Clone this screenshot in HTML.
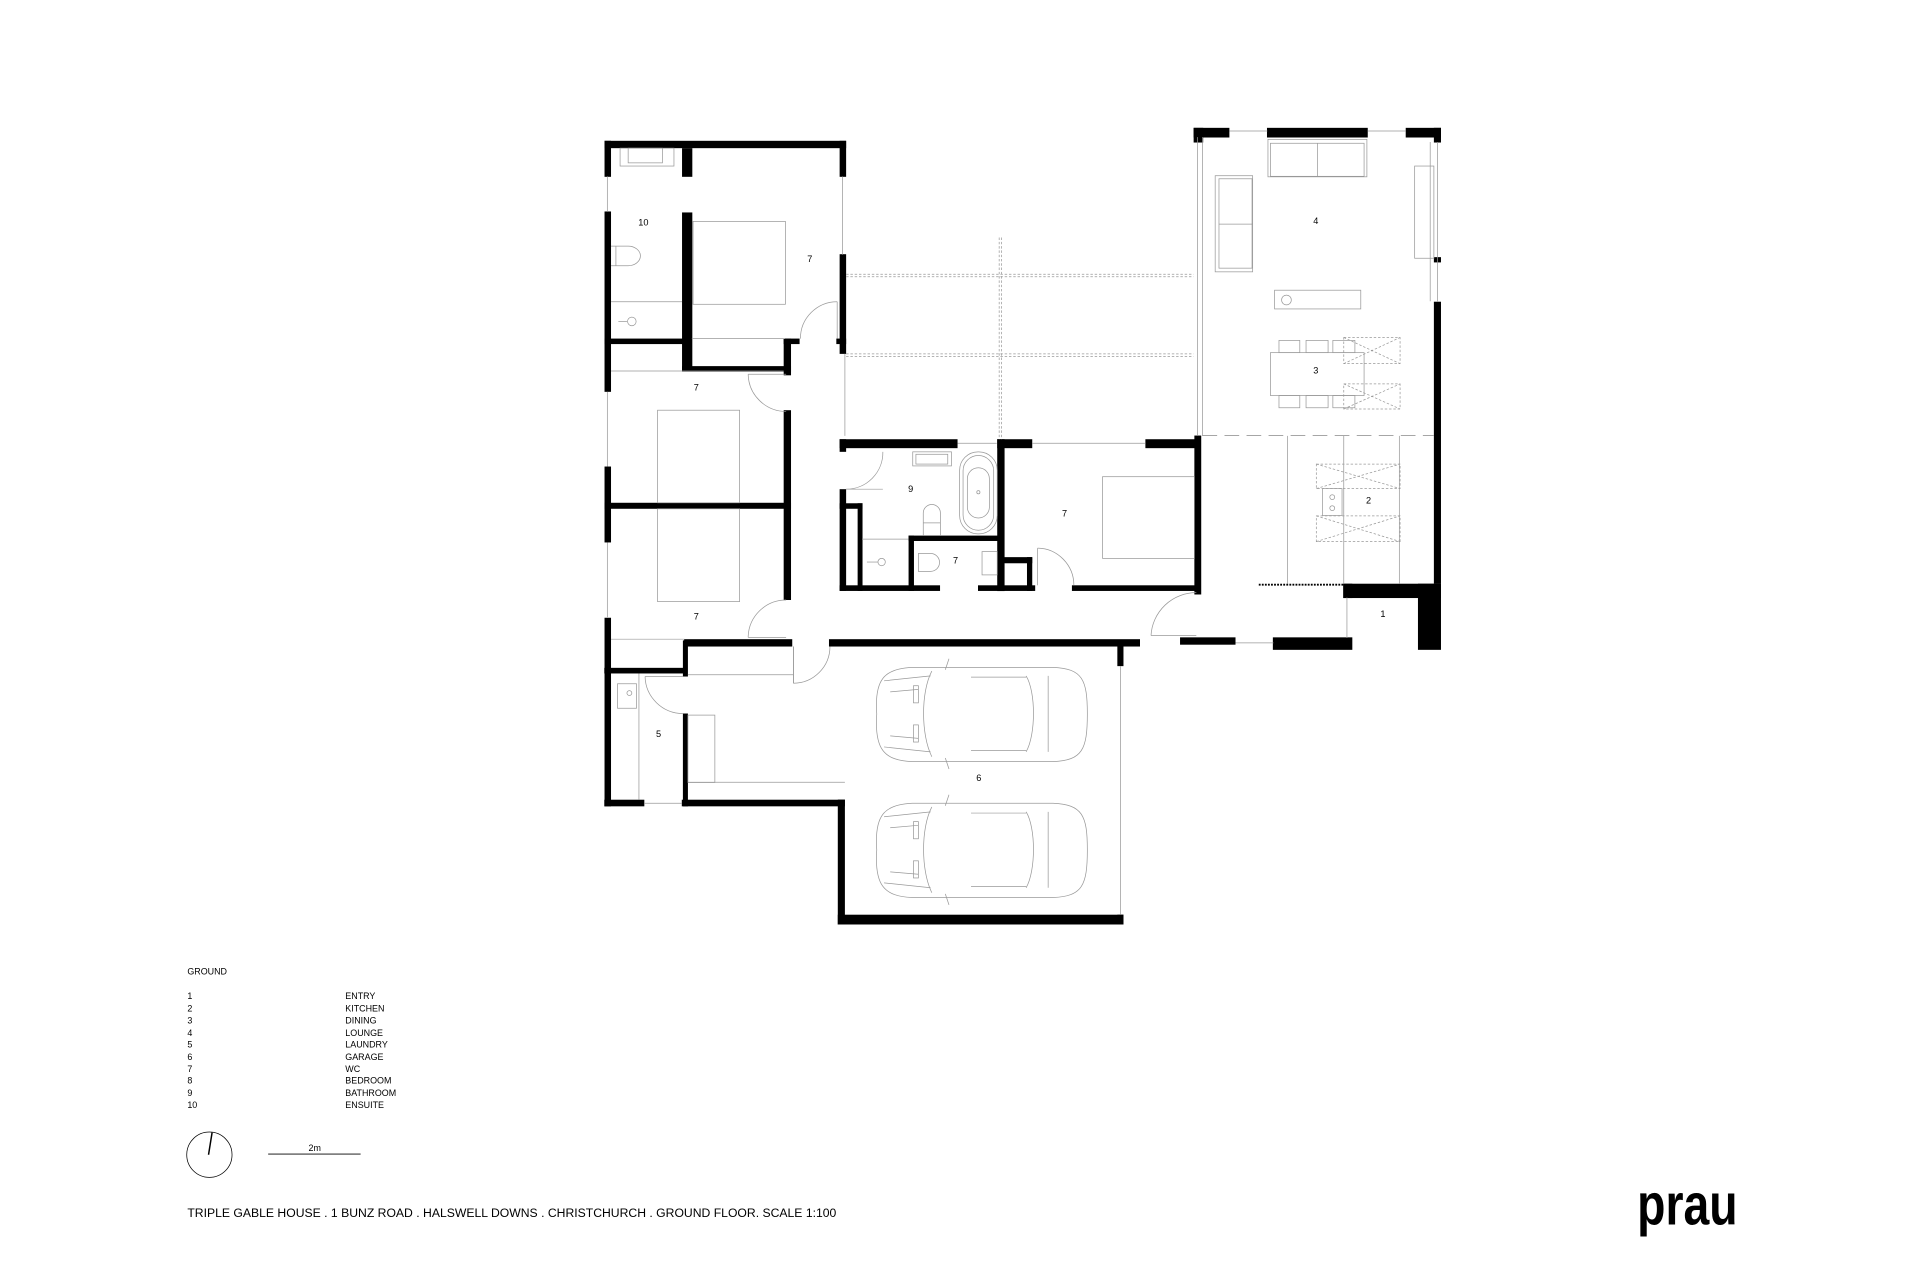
<!DOCTYPE html>
<html><head><meta charset="utf-8"><style>
html,body{margin:0;padding:0;background:#fff;}
svg{display:block;}
text{font-family:"Liberation Sans",sans-serif;fill:#000;}
</style></head><body>
<svg width="1920" height="1280" viewBox="0 0 1568 1045.33" preserveAspectRatio="none" xmlns="http://www.w3.org/2000/svg">
<rect width="1568" height="1046" fill="#fff"/>
<g fill="#000">
<!-- west wing -->
<rect x="493.7" y="115" width="197.3" height="6"/>
<rect x="493.7" y="115" width="5.3" height="29.4"/>
<rect x="493.7" y="172.7" width="5.3" height="147.3"/>
<rect x="493.7" y="381" width="5.3" height="62"/>
<rect x="493.7" y="504.5" width="5.3" height="154"/>
<rect x="685.7" y="115" width="5.3" height="29.4"/>
<rect x="685.7" y="207.6" width="5.3" height="81.4"/>
<rect x="557" y="121" width="8.4" height="23.4"/>
<rect x="557" y="173.5" width="8.4" height="129.8"/>
<rect x="493.7" y="276.5" width="71.3" height="4.5"/>
<rect x="557" y="299" width="89" height="4.5"/>
<rect x="640" y="276.5" width="6" height="30"/>
<rect x="640" y="276.5" width="13" height="4.5"/>
<rect x="683" y="276.5" width="8" height="4.5"/>
<rect x="640" y="335" width="6" height="155"/>
<rect x="493.7" y="410.6" width="152.3" height="4.9"/>
<rect x="558.7" y="522" width="88.3" height="6"/>
<rect x="677" y="522" width="254" height="6"/>
<!-- bath block -->
<rect x="685.7" y="358.7" width="96.3" height="7.3"/>
<rect x="814.4" y="358.7" width="28.6" height="7.3"/>
<rect x="935.4" y="358.7" width="45" height="7.3"/>
<rect x="685.7" y="358.7" width="5.3" height="10.3"/>
<rect x="685.7" y="399.5" width="5.3" height="83"/>
<rect x="685.7" y="411" width="18.7" height="4.5"/>
<rect x="700.4" y="411" width="4" height="71.6"/>
<rect x="685.7" y="478" width="82" height="4.6"/>
<rect x="798.7" y="478" width="46.7" height="4.6"/>
<rect x="875.4" y="478" width="105" height="4.6"/>
<rect x="742" y="437.4" width="75" height="4.4"/>
<rect x="742" y="437.4" width="4.4" height="45.2"/>
<rect x="814.4" y="358.7" width="6" height="124"/>
<rect x="820" y="455" width="23" height="5"/>
<rect x="838.7" y="455" width="4.3" height="27.6"/>
<rect x="975.4" y="355.7" width="5.6" height="129.8"/>
<!-- lounge -->
<rect x="974.8" y="104.4" width="29.2" height="7.9"/>
<rect x="1034.7" y="104.4" width="82.3" height="7.9"/>
<rect x="1148" y="104.4" width="28.8" height="7.9"/>
<rect x="974.8" y="104.4" width="7.8" height="12"/>
<rect x="1171" y="104.4" width="5.8" height="12"/>
<rect x="1171" y="210" width="5.8" height="4.3"/>
<rect x="1171" y="246.4" width="5.8" height="230.3"/>
<rect x="1097" y="476.7" width="79.8" height="11.7"/>
<rect x="1097" y="476.7" width="7.4" height="11.7"/>
<rect x="1158" y="476.7" width="18.8" height="54"/>
<rect x="1039.5" y="520.5" width="64.9" height="10.2"/>
<rect x="963.7" y="520.5" width="45.3" height="6"/>
<!-- garage/laundry -->
<rect x="912.5" y="525" width="5" height="19"/>
<rect x="912.5" y="747" width="5" height="8"/>
<rect x="684.2" y="747" width="233.3" height="8"/>
<rect x="684.2" y="653" width="5.8" height="102"/>
<rect x="493.5" y="653.1" width="32.7" height="5.4"/>
<rect x="556.8" y="653.1" width="133.2" height="5.4"/>
<rect x="493.5" y="545.4" width="67.7" height="4.6"/>
<rect x="557.7" y="523" width="4.1" height="29.5"/>
<rect x="557.7" y="582.7" width="4.1" height="75.8"/>
</g>
<g fill="none" stroke="#999" stroke-width="0.6">
<!-- glazing lines -->
<line x1="496" y1="144" x2="496" y2="173"/><line x1="496" y1="320" x2="496" y2="381"/><line x1="496" y1="443" x2="496" y2="504"/>
<line x1="688" y1="144" x2="688" y2="208"/><line x1="690" y1="289" x2="690" y2="356"/>
<line x1="782" y1="362" x2="814" y2="362"/><line x1="843" y1="362" x2="935" y2="362"/>
<line x1="978" y1="112" x2="978" y2="356"/><line x1="982" y1="112" x2="982" y2="356"/>
<line x1="1174" y1="116" x2="1174" y2="246"/><line x1="1168" y1="116" x2="1168" y2="246"/>
<line x1="1004" y1="107" x2="1035" y2="107"/><line x1="1117" y1="107" x2="1148" y2="107"/>
<line x1="1009" y1="525" x2="1040" y2="525"/><line x1="1100" y1="488" x2="1100" y2="521"/>
<line x1="915" y1="544" x2="915" y2="747"/>
<line x1="526" y1="656" x2="557" y2="656"/>
<!-- interior lines -->
<line x1="499" y1="303" x2="640" y2="303"/>
<line x1="565" y1="276.5" x2="641" y2="276.5"/>
<line x1="499" y1="522" x2="559" y2="522"/>
<line x1="499" y1="246.4" x2="557" y2="246.4"/>
<line x1="704" y1="440.3" x2="742" y2="440.3"/>
<line x1="521.8" y1="550" x2="521.8" y2="653"/>
<rect x="561.8" y="584" width="22" height="55"/>
<path d="M561.8 638.8 H690"/>
<line x1="561.8" y1="551" x2="648" y2="551"/>
<line x1="648" y1="528" x2="648" y2="558"/>
<!-- furniture -->
<rect x="566" y="180.8" width="75.4" height="67.7"/>
<rect x="537" y="335" width="67" height="75.6"/>
<rect x="537" y="415.5" width="67" height="75.8"/>
<rect x="506.4" y="121" width="44" height="14.6"/>
<rect x="513" y="121" width="28" height="12"/>
<path d="M499 201 h14 a10 8 0 0 1 0 16 h-14"/>
<line x1="503" y1="201" x2="503" y2="217"/>
<circle cx="516" cy="262.5" r="3.5"/><line x1="505" y1="262.5" x2="512" y2="262.5"/>
<rect x="783.7" y="369" width="30.7" height="67" rx="15"/>
<rect x="786.5" y="372" width="25" height="61" rx="12.5"/>
<rect x="790" y="382" width="18" height="41" rx="9"/>
<circle cx="799" cy="402" r="1.3"/>
<rect x="745.4" y="369" width="31.6" height="11.5"/><rect x="748" y="371" width="26" height="8"/>
<path d="M754 437 v-18 a7 7 0 0 1 14 0 v18"/><line x1="754" y1="427" x2="768" y2="427"/>
<path d="M750 452 h10 a7 7 0 0 1 0 14.6 h-10 z"/>
<rect x="802" y="450.5" width="12.4" height="19"/>
<circle cx="720" cy="459" r="3"/><line x1="708" y1="459" x2="717" y2="459"/>
<rect x="900.4" y="389.3" width="75" height="66.7"/>
<rect x="504.3" y="558.4" width="15.5" height="20"/><circle cx="514" cy="566" r="2"/>
<!-- doors -->
<line x1="683.7" y1="246.4" x2="683.7" y2="276.5"/><path d="M683.7 246.4 A30 30 0 0 0 653.7 276.5"/>
<line x1="611" y1="305.6" x2="642" y2="305.6"/><path d="M611 305.6 A31 31 0 0 0 642 336"/>
<line x1="611" y1="520.5" x2="642" y2="520.5"/><path d="M642 490 A31 31 0 0 0 611 520.5"/>
<line x1="691" y1="399.5" x2="721" y2="399.5"/><path d="M721 369 A30 30 0 0 1 691 399.5"/>
<line x1="847.4" y1="447.6" x2="847.4" y2="478"/><path d="M847.4 447.6 A30 30 0 0 1 877 478"/>
<line x1="940" y1="519" x2="977" y2="519"/><path d="M940 519 A37 37 0 0 1 977 484"/>
<line x1="526.8" y1="552.5" x2="557.7" y2="552.5"/><path d="M526.8 552.5 A31 31 0 0 0 557.7 582.7"/>
<line x1="648" y1="558" x2="648" y2="528"/><path d="M648 558 A30 30 0 0 0 677.8 528"/>
<!-- lounge furniture -->
<rect x="1035.5" y="113.8" width="80.8" height="30.6"/><rect x="1037.5" y="117" width="76.5" height="27"/><line x1="1076" y1="117" x2="1076" y2="144"/>
<rect x="992.4" y="143.5" width="30.6" height="78.5"/><rect x="995.5" y="146" width="27" height="73"/><line x1="995.5" y1="183" x2="1023" y2="183"/>
<rect x="1155.3" y="135.6" width="15.7" height="75.3"/>
<rect x="1040.9" y="237" width="70.4" height="15.3"/><circle cx="1050.6" cy="245" r="4"/>
<rect x="1037.5" y="288" width="76.5" height="35"/>
<rect x="1044.5" y="278" width="17" height="10"/><rect x="1066.6" y="278" width="18" height="10"/><rect x="1088.5" y="278" width="18" height="10"/>
<rect x="1044.5" y="323" width="17" height="10"/><rect x="1066.6" y="323" width="18" height="10"/><rect x="1088.5" y="323" width="18" height="10"/>
<line x1="1051.4" y1="356" x2="1051.4" y2="476.7"/><line x1="1097.4" y1="356" x2="1097.4" y2="476.7"/><line x1="1142.8" y1="356" x2="1142.8" y2="476.7"/>
<rect x="1080" y="399" width="16" height="22"/><circle cx="1088" cy="406" r="2"/><circle cx="1088" cy="415" r="2"/>
<!-- cars -->
<g id="car"><path d="M716 583 C714 555 722 546 745 545 L860 545 C884 546 888 555 888 583 C888 612 884 621 860 622 L745 622 C722 621 714 612 716 583 Z"/>
<path d="M761 548 C752 565 752 600 761 618 M838 552 C846 565 846 600 838 614 M793 553 L838 553 M793 613 L838 613 M856 552 L856 614 M722 556 L760 552 M722 610 L760 614 M727 565 L750 563 M727 601 L750 603"/>
<rect x="746" y="560" width="4" height="14"/><rect x="746" y="592" width="4" height="14"/>
<path d="M772 547 L775 538 M772 619 L775 628"/></g>
<use href="#car" transform="translate(0,111)"/>
</g>
<g fill="none" stroke="#999" stroke-width="0.6" stroke-dasharray="2 1.5">
<line x1="691" y1="224" x2="974.7" y2="224"/><line x1="691" y1="226" x2="974.7" y2="226"/>
<line x1="691" y1="289" x2="974.7" y2="289"/><line x1="691" y1="291" x2="974.7" y2="291"/>
<line x1="816" y1="194" x2="816" y2="358.7"/><line x1="818" y1="194" x2="818" y2="358.7"/>
<rect x="1097.4" y="275.6" width="46" height="21.4"/><path d="M1097.4 275.6 L1143.4 297 M1097.4 297 L1143.4 275.6"/>
<rect x="1097.4" y="313.5" width="46" height="20.5"/><path d="M1097.4 313.5 L1143.4 334 M1097.4 334 L1143.4 313.5"/>
<rect x="1075" y="379" width="68.4" height="20"/><path d="M1075 379 L1143.4 399 M1075 399 L1143.4 379"/>
<rect x="1075" y="421.3" width="68.4" height="21"/><path d="M1075 421.3 L1143.4 442.3 M1075 442.3 L1143.4 421.3"/>
</g>
<line x1="982" y1="355.7" x2="1171" y2="355.7" stroke="#999" stroke-width="0.8" stroke-dasharray="12 6"/>
<line x1="1028" y1="477.5" x2="1097" y2="477.5" stroke="#000" stroke-width="1.5" stroke-dasharray="1.5 1"/>
<g font-size="7.5" text-anchor="middle">
<text x="525.4" y="184">10</text><text x="661.4" y="214">7</text><text x="568.7" y="319">7</text><text x="568.7" y="506">7</text>
<text x="743.7" y="402">9</text><text x="780.4" y="460">7</text><text x="869.4" y="422">7</text>
<text x="1074.6" y="183">4</text><text x="1074.6" y="305">3</text><text x="1117.7" y="411">2</text><text x="1129.4" y="504">1</text>
<text x="537.8" y="602">5</text><text x="799.4" y="638">6</text>
</g>
<g font-size="7.3">
<text x="153" y="796">GROUND</text>
<text x="153" y="816">1</text><text x="282" y="816">ENTRY</text>
<text x="153" y="826">2</text><text x="282" y="826">KITCHEN</text>
<text x="153" y="836">3</text><text x="282" y="836">DINING</text>
<text x="153" y="846">4</text><text x="282" y="846">LOUNGE</text>
<text x="153" y="855.5">5</text><text x="282" y="855.5">LAUNDRY</text>
<text x="153" y="865.5">6</text><text x="282" y="865.5">GARAGE</text>
<text x="153" y="875.5">7</text><text x="282" y="875.5">WC</text>
<text x="153" y="885">8</text><text x="282" y="885">BEDROOM</text>
<text x="153" y="895">9</text><text x="282" y="895">BATHROOM</text>
<text x="153" y="905">10</text><text x="282" y="905">ENSUITE</text>
<text x="257" y="940" text-anchor="middle">2m</text>
</g>
<circle cx="171" cy="943" r="18.5" fill="none" stroke="#000" stroke-width="0.6"/>
<line x1="173.2" y1="925" x2="170.3" y2="943" stroke="#000" stroke-width="1.2"/>
<line x1="219" y1="942.5" x2="294.5" y2="942.5" stroke="#000" stroke-width="0.7"/>
<text x="153" y="994" font-size="10" textLength="530" lengthAdjust="spacingAndGlyphs">TRIPLE GABLE HOUSE . 1 BUNZ ROAD . HALSWELL DOWNS . CHRISTCHURCH . GROUND FLOOR. SCALE 1:100</text>
<text x="1337" y="1000" font-size="48" font-weight="bold" textLength="82" lengthAdjust="spacingAndGlyphs">prau</text>
</svg>
</body></html>
